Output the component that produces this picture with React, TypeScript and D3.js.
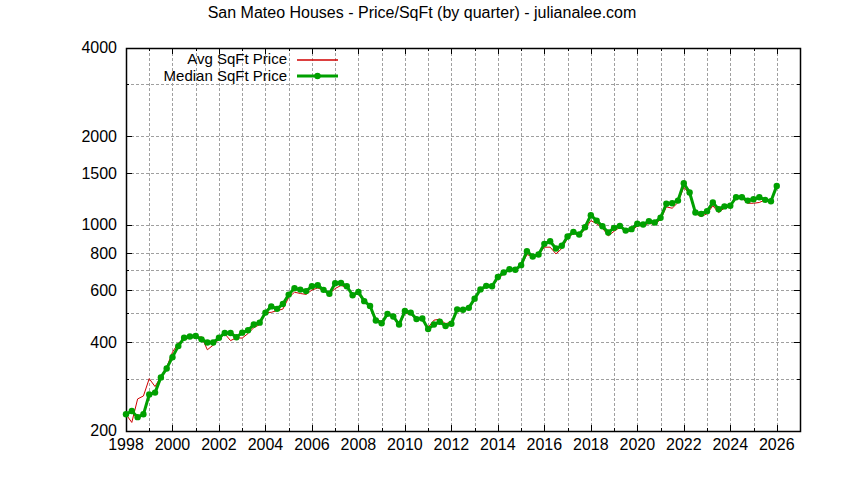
import React, { useEffect, useRef } from 'react';
import * as d3 from 'd3';

// quarterly values, 1998 Q1 .. 2026 Q1
const startYear = 1998;

const medianPrice = [
  227, 233, 222, 227,
  265, 269, 303, 325,
  355, 387, 413, 417,
  419, 408, 398, 398,
  413, 429, 429, 415,
  430, 438, 458, 465,
  503, 528, 518, 538,
  579, 609, 602, 595,
  618, 623, 601, 583,
  633, 634, 618, 576,
  591, 550, 530, 473,
  463, 498, 488, 458,
  509, 503, 478, 480,
  442, 458, 468, 453,
  461, 516, 514, 522,
  561, 603, 620, 618,
  665, 688, 706, 703,
  729, 813, 780, 792,
  861, 879, 830, 848,
  912, 946, 926, 981,
  1078, 1033, 988, 941,
  976, 991, 955, 966,
  1008, 1002, 1028, 1018,
  1056, 1178, 1183, 1208,
  1384, 1287, 1100, 1089,
  1112, 1190, 1129, 1154,
  1160, 1240, 1240, 1208,
  1221, 1240, 1215, 1202,
  1355,
];

const avgPrice = [
  227, 213, 256, 262,
  300, 282, 305, 328,
  369, 396, 408, 412,
  415, 416, 376, 390,
  408, 426, 404, 413,
  412, 427, 447, 458,
  503, 504, 511, 517,
  566, 590, 584, 580,
  600, 610, 598, 583,
  607, 622, 612, 580,
  582, 545, 533, 480,
  468, 495, 485, 455,
  500, 497, 475, 478,
  448, 474, 478, 461,
  468, 510, 510, 520,
  555, 600, 615, 615,
  655, 680, 700, 700,
  725, 792, 778, 790,
  839, 839, 796, 830,
  900, 935, 920, 965,
  1033, 1008, 975, 916,
  950, 980, 950, 952,
  990, 995, 1010, 1005,
  1040, 1150, 1138, 1190,
  1342, 1270, 1090, 1066,
  1090, 1160, 1100, 1140,
  1150, 1230, 1230, 1183,
  1183, 1190, 1215, 1195,
  1345,
];

const yTicks = [200, 300, 400, 500, 600, 700, 800, 1000, 1500, 2000, 3000, 4000];
const yLabels = [200, 400, 600, 800, 1000, 1500, 2000, 4000];
const xYears = d3.range(1998, 2028);
const xLabels = d3.range(1998, 2027, 2);

const chartTitle = 'San Mateo Houses - Price/SqFt (by quarter) - julianalee.com';
const seriesNames = ['Avg SqFt Price', 'Median SqFt Price'];

const RED = '#d00000';
const GREEN = '#00a000';

const Chart: React.FC = () => {
  const svgRef = useRef<SVGSVGElement>(null);

  useEffect(() => {
    if (!svgRef.current) return;
    const width = 844;
    const height = 480;
    const m = { left: 126, right: 800, top: 48, bottom: 431 };
    const font = '"Liberation Sans", Arial, sans-serif';

    const svg = d3.select(svgRef.current).attr('width', width).attr('height', height);
    svg.selectAll('*').remove();

    svg.append('rect').attr('width', width).attr('height', height).style('fill', 'white');

    const x = d3.scaleLinear().domain([1998, 2027]).range([m.left, m.right]);
    const y = d3.scaleLog().domain([200, 4000]).range([m.bottom - 0.5, m.top - 0.5]);

    // grid
    const grid = svg.append('g')
      .attr('stroke', '#a0a0a0')
      .attr('stroke-width', 1)
      .attr('stroke-dasharray', '2.5,2.5')
      .attr('shape-rendering', 'crispEdges');

    grid.selectAll('.gx')
      .data(xYears.filter(d => d > 1998 && d < 2027))
      .enter().append('line')
      .attr('x1', d => Math.round(x(d)) + 0.5)
      .attr('x2', d => Math.round(x(d)) + 0.5)
      .attr('y1', m.top)
      .attr('y2', m.bottom);

    grid.selectAll('.gy')
      .data(yTicks.filter(d => d > 200 && d < 4000))
      .enter().append('line')
      .attr('x1', m.left)
      .attr('x2', m.right)
      .attr('y1', d => Math.round(y(d)) + 0.5)
      .attr('y2', d => Math.round(y(d)) + 0.5);

    // ticks (inward, mirrored)
    const ticks = svg.append('g').attr('stroke', 'black').attr('stroke-width', 1)
      .attr('shape-rendering', 'crispEdges');
    xYears.forEach(yr => {
      const px = Math.round(x(yr)) + 0.5;
      const len = yr % 2 === 0 ? 6 : 3;
      ticks.append('line').attr('x1', px).attr('x2', px).attr('y1', m.bottom).attr('y2', m.bottom - len);
      ticks.append('line').attr('x1', px).attr('x2', px).attr('y1', m.top).attr('y2', m.top + len);
    });
    yTicks.forEach(v => {
      const py = Math.round(y(v)) + 0.5;
      const len = yLabels.includes(v) ? 6 : 3;
      ticks.append('line').attr('x1', m.left).attr('x2', m.left + len).attr('y1', py).attr('y2', py);
      ticks.append('line').attr('x1', m.right).attr('x2', m.right - len).attr('y1', py).attr('y2', py);
    });

    // frame
    svg.append('rect')
      .attr('x', m.left + 0.5)
      .attr('y', m.top + 0.5)
      .attr('width', m.right - m.left)
      .attr('height', m.bottom - m.top)
      .attr('fill', 'none')
      .attr('stroke', 'black')
      .attr('stroke-width', 1.5);

    // tick labels
    svg.append('g').selectAll('text')
      .data(xLabels)
      .enter().append('text')
      .attr('x', d => x(d))
      .attr('y', 450)
      .attr('text-anchor', 'middle')
      .style('font-family', font)
      .style('font-size', '16px')
      .text(d => d);

    svg.append('g').selectAll('text')
      .data(yLabels)
      .enter().append('text')
      .attr('x', 117)
      .attr('y', d => y(d))
      .attr('dy', '0.36em')
      .attr('text-anchor', 'end')
      .style('font-family', font)
      .style('font-size', '16px')
      .text(d => d);

    // title
    svg.append('text')
      .attr('x', 422)
      .attr('y', 18)
      .attr('text-anchor', 'middle')
      .style('font-family', font)
      .style('font-size', '16px')
      .text(chartTitle);

    const qx = (i: number) => x(startYear + i * 0.25);

    const line = d3.line<number>()
      .x((_, i) => qx(i))
      .y(d => y(d));

    svg.append('path')
      .datum(avgPrice)
      .attr('d', line)
      .attr('fill', 'none')
      .attr('stroke', RED)
      .attr('stroke-width', 1);

    svg.append('path')
      .datum(medianPrice)
      .attr('d', line)
      .attr('fill', 'none')
      .attr('stroke', GREEN)
      .attr('stroke-width', 3)
      .attr('stroke-linejoin', 'round');

    svg.append('g').selectAll('circle')
      .data(medianPrice)
      .enter().append('circle')
      .attr('cx', (_, i) => qx(i))
      .attr('cy', d => y(d))
      .attr('r', 3.2)
      .attr('fill', GREEN);

    // legend
    const legend = svg.append('g');
    const rows = [
      { name: seriesNames[0], color: RED, w: 1.5, y: 60, base: 63.5, marker: false },
      { name: seriesNames[1], color: GREEN, w: 3, y: 76, base: 81, marker: true },
    ];
    rows.forEach(r => {
      legend.append('text')
        .attr('x', 287)
        .attr('y', r.base)
        .attr('text-anchor', 'end')
        .style('font-family', font)
        .style('font-size', '15px')
        .text(r.name);
      legend.append('line')
        .attr('x1', 297).attr('x2', 338)
        .attr('y1', r.y).attr('y2', r.y)
        .attr('stroke', r.color)
        .attr('stroke-width', r.w);
      if (r.marker) {
        legend.append('circle').attr('cx', 317.5).attr('cy', r.y).attr('r', 3.2).attr('fill', r.color);
      }
    });
  }, []);

  return <svg ref={svgRef} style={{ position: 'absolute', left: 0, top: 0 }}></svg>;
};

export default function App() {
  return (
    <div>
      <Chart />
    </div>
  );
}
